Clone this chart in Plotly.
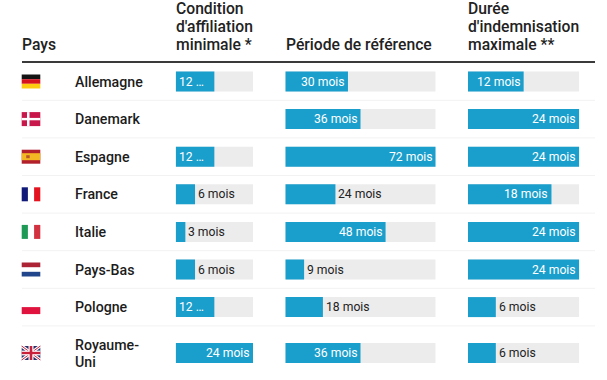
import plotly.graph_objects as go

W, H = 607, 380

countries = ["Allemagne", "Danemark", "Espagne", "France", "Italie", "Pays-Bas", "Pologne", "Royaume-<br>Uni"]
affiliation = [12, None, 12, 6, 3, 6, 12, 24]
reference = [30, 36, 72, 24, 48, 9, 18, 36]
indemnisation = [12, 24, 24, 18, 24, 24, 6, 6]
affiliation_labels = ["12 …", None, "12 …", "6 mois", "3 mois", "6 mois", "12 …", "24 mois"]
reference_labels = [f"{v} mois" for v in reference]
indemnisation_labels = [f"{v} mois" for v in indemnisation]
scale_max = [24, 72, 24]
headers = [["Pays"], ["Condition", "d'affiliation", "minimale *"], ["Période de référence"],
           ["Durée", "d'indemnisation", "maximale **"]]

BLUE, GREY, DARK = "#1a9ecb", "#ececec", "#222222"
FONT = "Roboto"
columns = [(175.7, 253.0), (285.3, 435.7), (468.0, 579.3)]
row_tops = [62.7 + 37.6 * i for i in range(8)]
row_heights = [37.6] * 7 + [54.0]
centers = [81.5 + 37.6 * i for i in range(7)] + [353.0]

fig = go.Figure()
anns, shapes = [], []


def px(x):
    return x / W


def rect(x0, x1, y0, y1, color):
    shapes.append(dict(type="rect", xref="paper", yref="y", x0=px(x0), x1=px(x1), y0=y0, y1=y1,
                       fillcolor=color, line_width=0, layer="above"))


def line(x0, y0, x1, y1, color, width):
    shapes.append(dict(type="line", xref="paper", yref="y", x0=px(x0), x1=px(x1), y0=y0, y1=y1,
                       line=dict(color=color, width=width), layer="above"))


series = [(affiliation, affiliation_labels), (reference, reference_labels), (indemnisation, indemnisation_labels)]
for i, (values, labels) in enumerate(series):
    ax = "x" if i == 0 else f"x{i + 1}"
    track = [scale_max[i] if v is not None else None for v in values]
    fig.add_trace(go.Bar(x=track, y=centers, orientation="h", width=20, marker=dict(color=GREY, line_width=0),
                         xaxis=ax, yaxis="y", hoverinfo="skip", showlegend=False))
    fig.add_trace(go.Bar(x=values, y=centers, orientation="h", width=20, marker=dict(color=BLUE, line_width=0),
                         xaxis=ax, yaxis="y", showlegend=False))
    for v, lab, c in zip(values, labels, centers):
        if lab is None:
            continue
        if "…" in lab:
            x, anchor, shift, col = 0, "left", 3, "white"
        elif (v / scale_max[i]) * (columns[i][1] - columns[i][0]) > 52:
            x, anchor, shift, col = v, "right", -3, "white"
        else:
            x, anchor, shift, col = v, "left", 3, DARK
        anns.append(dict(x=x, y=c, xref=ax, yref="y", text=lab, showarrow=False, xanchor=anchor, yanchor="middle",
                         xshift=shift, borderpad=0, borderwidth=0, align="left",
                         font=dict(family=FONT, size=12.2, color=col)))

layout_axes = {}
for i, (a, b) in enumerate(columns):
    key = "xaxis" if i == 0 else f"xaxis{i + 1}"
    layout_axes[key] = dict(domain=[px(a), px(b)], range=[0, scale_max[i]], visible=False, fixedrange=True,
                            anchor="y")

# Headers
head_x = [21, 175, 284.5, 467]
for hx, lines in zip(head_x, headers):
    n = len(lines)
    for j, t in enumerate(lines):
        anns.append(dict(x=px(hx), y=44 - 18 * (n - 1 - j), xref="paper", yref="y", text=t, showarrow=False,
                         xanchor="left", yanchor="middle", xshift=-1,
                         font=dict(family=FONT, size=15.7, color="#222222", weight=500)))

# Country names
for name, c in zip(countries, centers):
    parts = name.split("<br>")
    for j, t in enumerate(parts):
        yy = c + (j - (len(parts) - 1) / 2) * 17
        anns.append(dict(x=px(74), y=yy, xref="paper", yref="y", text=t, showarrow=False, xanchor="left",
                         yanchor="middle", xshift=-1,
                         font=dict(family=FONT, size=14.2, color="#1c1c1c", weight=500)))

# Rules
line(22, 62, 595, 62, "#3a3a3a", 2)
for t, h in list(zip(row_tops, row_heights))[:7]:
    line(22, t + h, 595, t + h, "#f2f2f2", 1)

# Flags
L, R = 21.7, 40.3
def fy(i):
    return centers[i] - 7, centers[i] + 7

y0, y1 = fy(0)
rect(L, R, y0, y0 + 4.7, "#141414"); rect(L, R, y0 + 4.7, y0 + 9.3, "#d5121e"); rect(L, R, y0 + 9.3, y1, "#fdcb10")
y0, y1 = fy(1)
rect(L, R, y0, y1, "#c8174a"); rect(L + 5.3, L + 7.8, y0, y1, "white"); rect(L, R, y0 + 5.8, y0 + 8.2, "white")
y0, y1 = fy(2)
rect(L, R, y0, y1, "#b2202c"); rect(L, R, y0 + 3.5, y0 + 10.5, "#f4b724"); rect(L + 4.5, L + 8, y0 + 5.5, y0 + 8.5, "#b8562a")
y0, y1 = fy(3)
rect(L, L + 6.2, y0, y1, "#111a78"); rect(R - 6.2, R, y0, y1, "#e3141f")
y0, y1 = fy(4)
rect(L, L + 6.2, y0, y1, "#1f9a56"); rect(R - 6.2, R, y0, y1, "#d2313f")
y0, y1 = fy(5)
rect(L, R, y0, y0 + 4.7, "#ab2335"); rect(L, R, y1 - 4.7, y1, "#21468b")
y0, y1 = fy(6)
rect(L, R, y0 + 7, y1, "#e0133f")
y0, y1 = fy(7)
rect(L, R, y0, y1, "#28306a")
line(L, y0, R, y1, "white", 3); line(L, y1, R, y0, "white", 3)
line(L, y0, R, y1, "#c8203a", 1); line(L, y1, R, y0, "#c8203a", 1)
rect(L + 6.8, R - 6.8, y0, y1, "white"); rect(L, R, y0 + 4.6, y1 - 4.6, "white")
rect(L + 8, R - 8, y0, y1, "#c8203a"); rect(L, R, y0 + 5.8, y1 - 5.8, "#c8203a")

fig.update_layout(
    width=W, height=H, margin=dict(l=0, r=0, t=0, b=0), barmode="overlay", showlegend=False,
    paper_bgcolor="white", plot_bgcolor="white",
    yaxis=dict(domain=[0, 1], range=[H, 0], visible=False, fixedrange=True),
    annotations=anns, shapes=shapes, **layout_axes,
)
fig.write_html("out.html", config={"displayModeBar": False},
               post_script="document.body.style.margin='0';document.body.style.overflow='hidden';")
